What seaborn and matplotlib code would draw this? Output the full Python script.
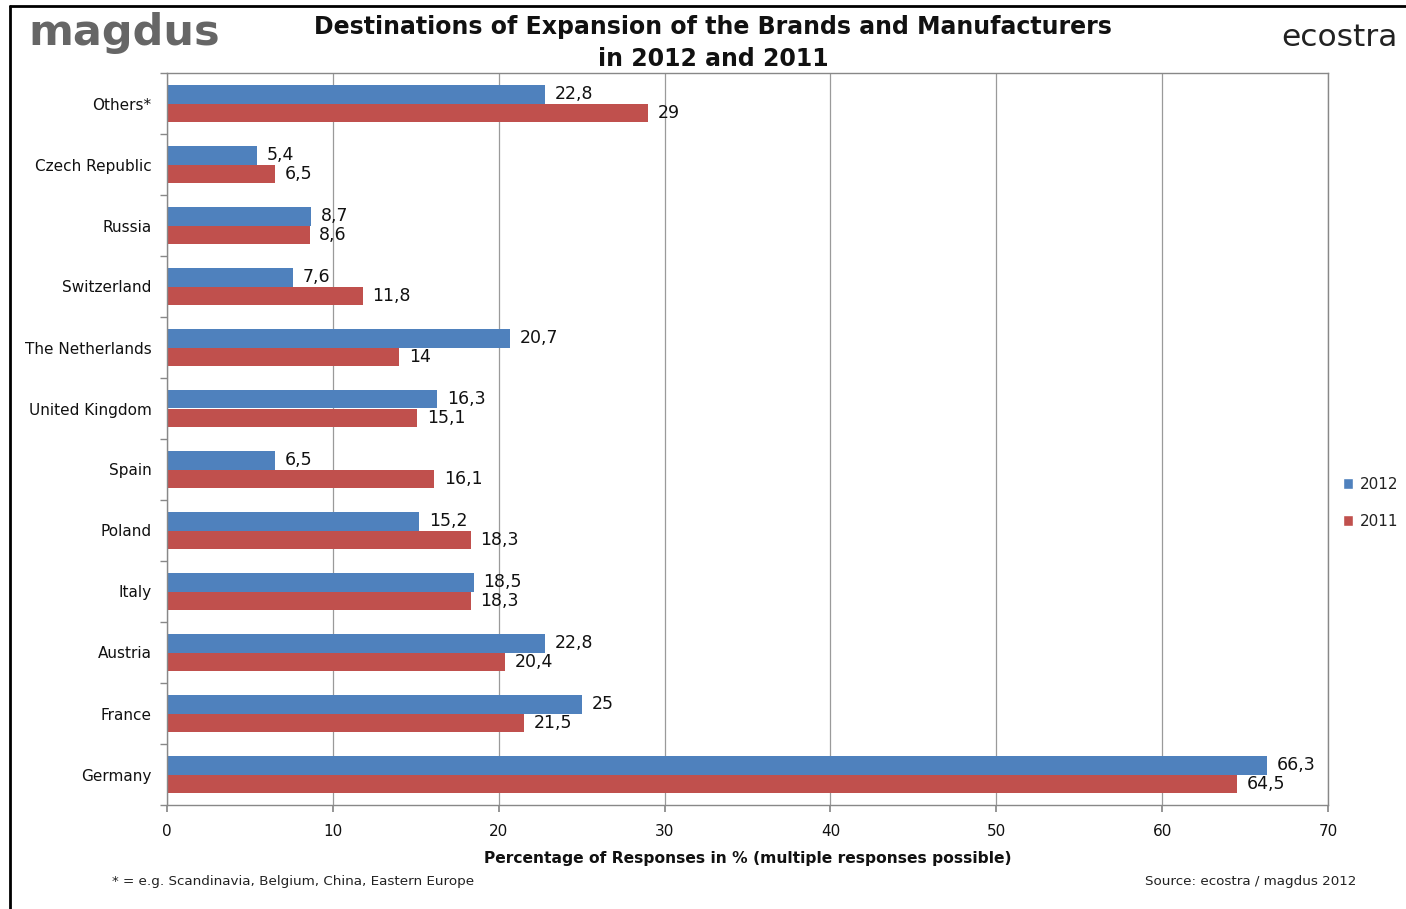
import matplotlib
matplotlib.use("Agg")
import matplotlib.pyplot as plt
import matplotlib.transforms as mtransforms
from matplotlib.lines import Line2D
from matplotlib.patches import Patch
import seaborn as sns
import pandas as pd
import numpy as np

countries = ["Others*", "Czech Republic", "Russia", "Switzerland", "The Netherlands",
             "United Kingdom", "Spain", "Poland", "Italy", "Austria", "France", "Germany"]
values_2012 = [22.8, 5.4, 8.7, 7.6, 20.7, 16.3, 6.5, 15.2, 18.5, 22.8, 25, 66.3]
values_2011 = [29, 6.5, 8.6, 11.8, 14, 15.1, 16.1, 18.3, 18.3, 20.4, 21.5, 64.5]
years = ["2012", "2011"]
x_ticks = [0, 10, 20, 30, 40, 50, 60, 70]

df = pd.DataFrame({
    "Country": countries * 2,
    "Year": ["2012"] * len(countries) + ["2011"] * len(countries),
    "Value": values_2012 + values_2011,
})

sns.set_theme(style="white")
plt.rcParams["font.family"] = ["DejaVu Sans"]

blue = "#4F81BD"
red = "#C0504D"

fig = plt.figure(figsize=(14.06, 9.09), dpi=100)
ax = fig.add_axes([167/1406, 1-805/909, (1328-167)/1406, (805-73)/909])

sns.barplot(data=df, y="Country", x="Value", hue="Year", order=countries,
            hue_order=years, palette=[blue, red], orient="h", width=0.62,
            saturation=1, ax=ax, legend=False, errorbar=None, linewidth=0)

shift = mtransforms.ScaledTranslation(0, -2/100, fig.dpi_scale_trans)
for cont in ax.containers:
    labs = ax.bar_label(cont, fmt=lambda v: f"{v:g}".replace(".", ","), padding=7,
                        fontsize=12.5, color="#111111")
    for t in labs:
        t.set_va("center")
        t.set_transform(t.get_transform() + shift)

ax.set_xlim(0, 70)
ax.set_ylim(len(countries) - 0.5, -0.5)
ax.set_xticks(x_ticks)
ax.set_xticklabels([str(t) for t in x_ticks], fontsize=11)
ax.xaxis.grid(True, color="#9a9a9a", linewidth=0.9)
ax.set_axisbelow(True)
ax.tick_params(axis="x", length=5, color="#888888", direction="out", pad=9, bottom=True)
ax.tick_params(axis="y", which="major", length=0, pad=11, labelsize=11)
ax.set_yticks(np.arange(-0.5, len(countries), 1), minor=True)
ax.tick_params(axis="y", which="minor", length=5, color="#888888", direction="out", left=True)
for lab in ax.get_yticklabels():
    lab.set_color("#111111")
for lab in ax.get_xticklabels():
    lab.set_color("#111111")
for s in ax.spines.values():
    s.set_color("#888888")
    s.set_linewidth(1.0)
ax.set_ylabel("")
ax.set_xlabel("Percentage of Responses in % (multiple responses possible)",
              fontsize=11.2, fontweight="bold", labelpad=8.5, color="#111111")

fig.text(0.507, 1-27/909, "Destinations of Expansion of the Brands and Manufacturers",
         ha="center", va="center", fontsize=17, fontweight="bold", color="#111111")
fig.text(0.507, 1-59/909, "in 2012 and 2011",
         ha="center", va="center", fontsize=17, fontweight="bold", color="#111111")

# logos as text
fig.text(28/1406, 1-33/909, "magdus", ha="left", va="center", fontsize=31,
         fontweight="heavy", color="#666666")
fig.text(1281/1406, 1-37/909, "ecostra", ha="left", va="center", fontsize=22.5,
         color="#222222")

# legend
handles = [Patch(facecolor=blue), Patch(facecolor=red)]
fig.legend(handles, years, loc="center left", bbox_to_anchor=(1329/1406, 1-503/909),
           frameon=False, fontsize=11, handlelength=0.7, handleheight=0.7,
           handletextpad=0.4, labelspacing=1.45, labelcolor="#222222")

fig.text(112/1406, 1-881/909, "* = e.g. Scandinavia, Belgium, China, Eastern Europe",
         ha="left", va="center", fontsize=9.7, color="#222222")
fig.text(1356/1406, 1-882/909, "Source: ecostra / magdus 2012",
         ha="right", va="center", fontsize=9.7, color="#222222")

# outer frame lines
fig.add_artist(Line2D([10/1406, 10/1406], [0, 1-6/909], color="black", linewidth=2,
                      transform=fig.transFigure))
fig.add_artist(Line2D([10/1406, 1], [1-6/909, 1-6/909], color="black", linewidth=2,
                      transform=fig.transFigure))

fig.savefig("out.png", dpi=100, facecolor="white")
